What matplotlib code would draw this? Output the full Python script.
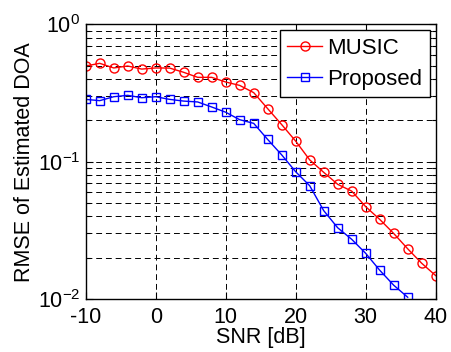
import numpy as np
import matplotlib.pyplot as plt
from matplotlib.ticker import LogLocator, NullFormatter

plt.rcParams['font.family'] = ['Liberation Sans', 'DejaVu Sans']
plt.rcParams['font.size'] = 15.5
plt.rcParams['axes.unicode_minus'] = False
plt.rcParams['mathtext.fontset'] = 'custom'
plt.rcParams['mathtext.rm'] = 'Liberation Sans'
plt.rcParams['mathtext.it'] = 'Liberation Sans:italic'
plt.rcParams['mathtext.default'] = 'rm'

snr_music = np.arange(-10, 41, 2)
rmse_music = [0.497, 0.52, 0.481, 0.497, 0.472, 0.481, 0.48, 0.447, 0.411, 0.411,
              0.38, 0.359, 0.318, 0.243, 0.186, 0.141, 0.103, 0.0836, 0.0684, 0.061,
              0.047, 0.038, 0.030, 0.0232, 0.0182, 0.0148]

snr_prop = np.arange(-10, 37, 2)
rmse_prop = [0.284, 0.278, 0.297, 0.304, 0.292, 0.297, 0.284, 0.276, 0.272, 0.25,
             0.229, 0.202, 0.19, 0.145, 0.112, 0.0844, 0.0668, 0.044, 0.033, 0.0272,
             0.0215, 0.0162, 0.0126, 0.0103]

xticks = [-10, 0, 10, 20, 30, 40]
yticks = [1e-2, 1e-1, 1]
ylabels = ['$10^{-2}$', '$10^{-1}$', '$10^{0}$']

fig = plt.figure(figsize=(4.52, 3.52), dpi=100)
ax = fig.add_axes([85.7 / 452, 1 - 299 / 352, 350 / 452, 274.7 / 352])

ax.semilogy(snr_music, rmse_music, '-o', color='r', lw=1.0, ms=6.5,
            mfc='none', mew=1.0, label='MUSIC')
ax.semilogy(snr_prop, rmse_prop, '-s', color='b', lw=1.0, ms=5.5,
            mfc='none', mew=1.0, label='Proposed')

ax.set_xlim(-10, 40)
ax.set_ylim(1e-2, 1)
ax.set_xticks(xticks)
ax.set_yticks(yticks)
ax.set_yticklabels(ylabels)
ax.yaxis.set_minor_locator(LogLocator(base=10, subs=np.arange(2, 10)))
ax.yaxis.set_minor_formatter(NullFormatter())

ax.grid(True, which='major', color='k', ls=(0, (6, 4)), lw=0.7)
ax.grid(True, which='minor', axis='y', color='k', ls=(0, (6, 4)), lw=0.7)
ax.set_axisbelow(True)

ax.tick_params(which='both', direction='in', top=True, right=True, width=0.8)
ax.tick_params(which='major', length=5)
ax.tick_params(axis='x', which='major', pad=6)
ax.tick_params(axis='y', which='major', pad=4)
ax.tick_params(which='minor', length=3)
for s in ax.spines.values():
    s.set_linewidth(1.0)

ax.set_xlabel('SNR [dB]', labelpad=-1)
ax.set_ylabel('RMSE of Estimated DOA', labelpad=2)

leg = ax.legend(loc='upper right', fancybox=False, edgecolor='k', framealpha=1,
                borderaxespad=0.25, handlelength=1.55, handletextpad=0.25,
                borderpad=0.35, labelspacing=0.45, fontsize=16)
leg.get_frame().set_linewidth(1.0)

fig.savefig('out.png', dpi=100)
